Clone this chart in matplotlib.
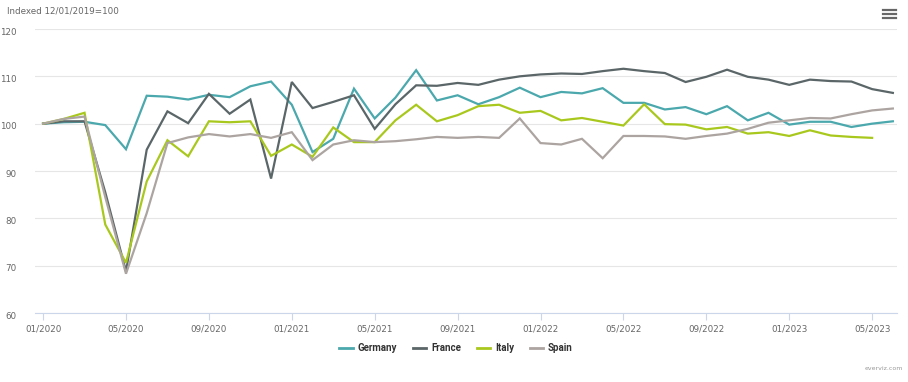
import matplotlib
matplotlib.use("Agg")
import matplotlib.pyplot as plt
import matplotlib.transforms as mtransforms
from matplotlib.lines import Line2D

months = list(range(42))
tick_positions = list(range(0, 41, 4))
tick_labels = ["01/2020", "05/2020", "09/2020", "01/2021", "05/2021", "09/2021",
               "01/2022", "05/2022", "09/2022", "01/2023", "05/2023"]

germany = [100, 100.3, 100.4, 99.7, 94.6, 105.9, 105.7, 105.1, 106.1, 105.6, 107.9, 108.9,
           104.0, 94.0, 96.8, 107.4, 101.1, 105.5, 111.3, 104.9, 106.0, 104.1, 105.6, 107.6,
           105.6, 106.7, 106.4, 107.5, 104.4, 104.4, 103.0, 103.5, 102.0, 103.7, 100.7, 102.3,
           99.8, 100.4, 100.4, 99.3, 100.0, 100.5]
france = [100, 100.5, 100.5, 85.5, 68.8, 94.5, 102.6, 100.1, 106.3, 102.1, 105.1, 88.4,
          108.8, 103.3, 104.6, 106.0, 98.9, 104.1, 108.1, 108.0, 108.6, 108.2, 109.3, 110.0,
          110.4, 110.6, 110.5, 111.1, 111.6, 111.1, 110.7, 108.8, 109.9, 111.4, 109.9, 109.3,
          108.2, 109.3, 109.0, 108.9, 107.3, 106.5]
italy = [100, 101.0, 102.3, 78.7, 70.6, 87.8, 96.5, 93.1, 100.5, 100.3, 100.5, 93.2,
         95.6, 93.0, 99.2, 96.1, 96.1, 100.7, 104.0, 100.5, 101.8, 103.7, 104.0, 102.3,
         102.7, 100.7, 101.2, 100.4, 99.6, 104.1, 99.9, 99.8, 98.8, 99.3, 97.9, 98.2,
         97.4, 98.6, 97.5, 97.2, 97.0]
spain = [100, 101.0, 101.5, 84.5, 68.3, 81.1, 95.9, 97.1, 97.8, 97.3, 97.8, 97.0,
         98.2, 92.3, 95.6, 96.5, 96.1, 96.3, 96.7, 97.2, 97.0, 97.2, 97.0, 101.1,
         95.9, 95.6, 96.8, 92.7, 97.4, 97.4, 97.3, 96.8, 97.4, 97.9, 98.9, 100.2,
         100.7, 101.2, 101.1, 102.0, 102.8, 103.2]

series = [("Germany", germany, "#4ba8ad"),
          ("France", france, "#5b6668"),
          ("Italy", italy, "#a9c81e"),
          ("Spain", spain, "#aca4a0")]

fig = plt.figure(figsize=(9.08, 3.82), dpi=100)
ax = fig.add_axes([35/908, 1-313/382, (897-35)/908, (313-29)/382])

for name, vals, col in series:
    ax.plot(months[:len(vals)], vals, color=col, lw=1.6, label=name, solid_joinstyle="miter")

ax.set_xlim(-0.39, 41.2)
ax.set_ylim(60, 120)
ax.set_yticks([60, 70, 80, 90, 100, 110, 120])
ax.grid(axis="y", color="#e6e6e6", lw=0.8)
ax.set_axisbelow(True)
for s in ["top", "right", "left"]:
    ax.spines[s].set_visible(False)
ax.spines["bottom"].set_color("#ccd6eb")
ax.spines["bottom"].set_linewidth(0.8)
ax.set_xticks(tick_positions)
ax.set_xticklabels(tick_labels)
ax.tick_params(axis="x", length=5, color="#ccd6eb", labelsize=6.3, labelcolor="#666666", pad=3)
ax.tick_params(axis="y", length=0, labelsize=6.3, labelcolor="#666666", pad=13)
offset = mtransforms.ScaledTranslation(0, -1.5/72, fig.dpi_scale_trans)
for lbl in ax.get_yticklabels():
    lbl.set_transform(lbl.get_transform() + offset)

fig.text(7/908, 1-11/382, "Indexed 12/01/2019=100", fontsize=6.3, color="#666666", va="center", ha="left")

handles = [Line2D([0], [0], color=c, lw=2) for _, _, c in series]
leg = fig.legend(handles, [n for n, _, _ in series], loc="center", bbox_to_anchor=(456/908, 1-348/382),
                 ncol=4, frameon=False, handlelength=1.4, handletextpad=0.5, columnspacing=1.6,
                 prop={"family": "Roboto", "weight": "bold", "size": 7})
for t in leg.get_texts():
    t.set_color("#333333")

# menu icon
for yy in [10, 14, 18]:
    fig.add_artist(Line2D([883/908, 896/908], [1-yy/382, 1-yy/382], color="#666666", lw=1.6,
                          transform=fig.transFigure))

fig.text(903/908, 1-369/382, "everviz.com", fontsize=4.5, color="#999999", ha="right", va="center")

fig.savefig("out.png", dpi=100, facecolor="white")
